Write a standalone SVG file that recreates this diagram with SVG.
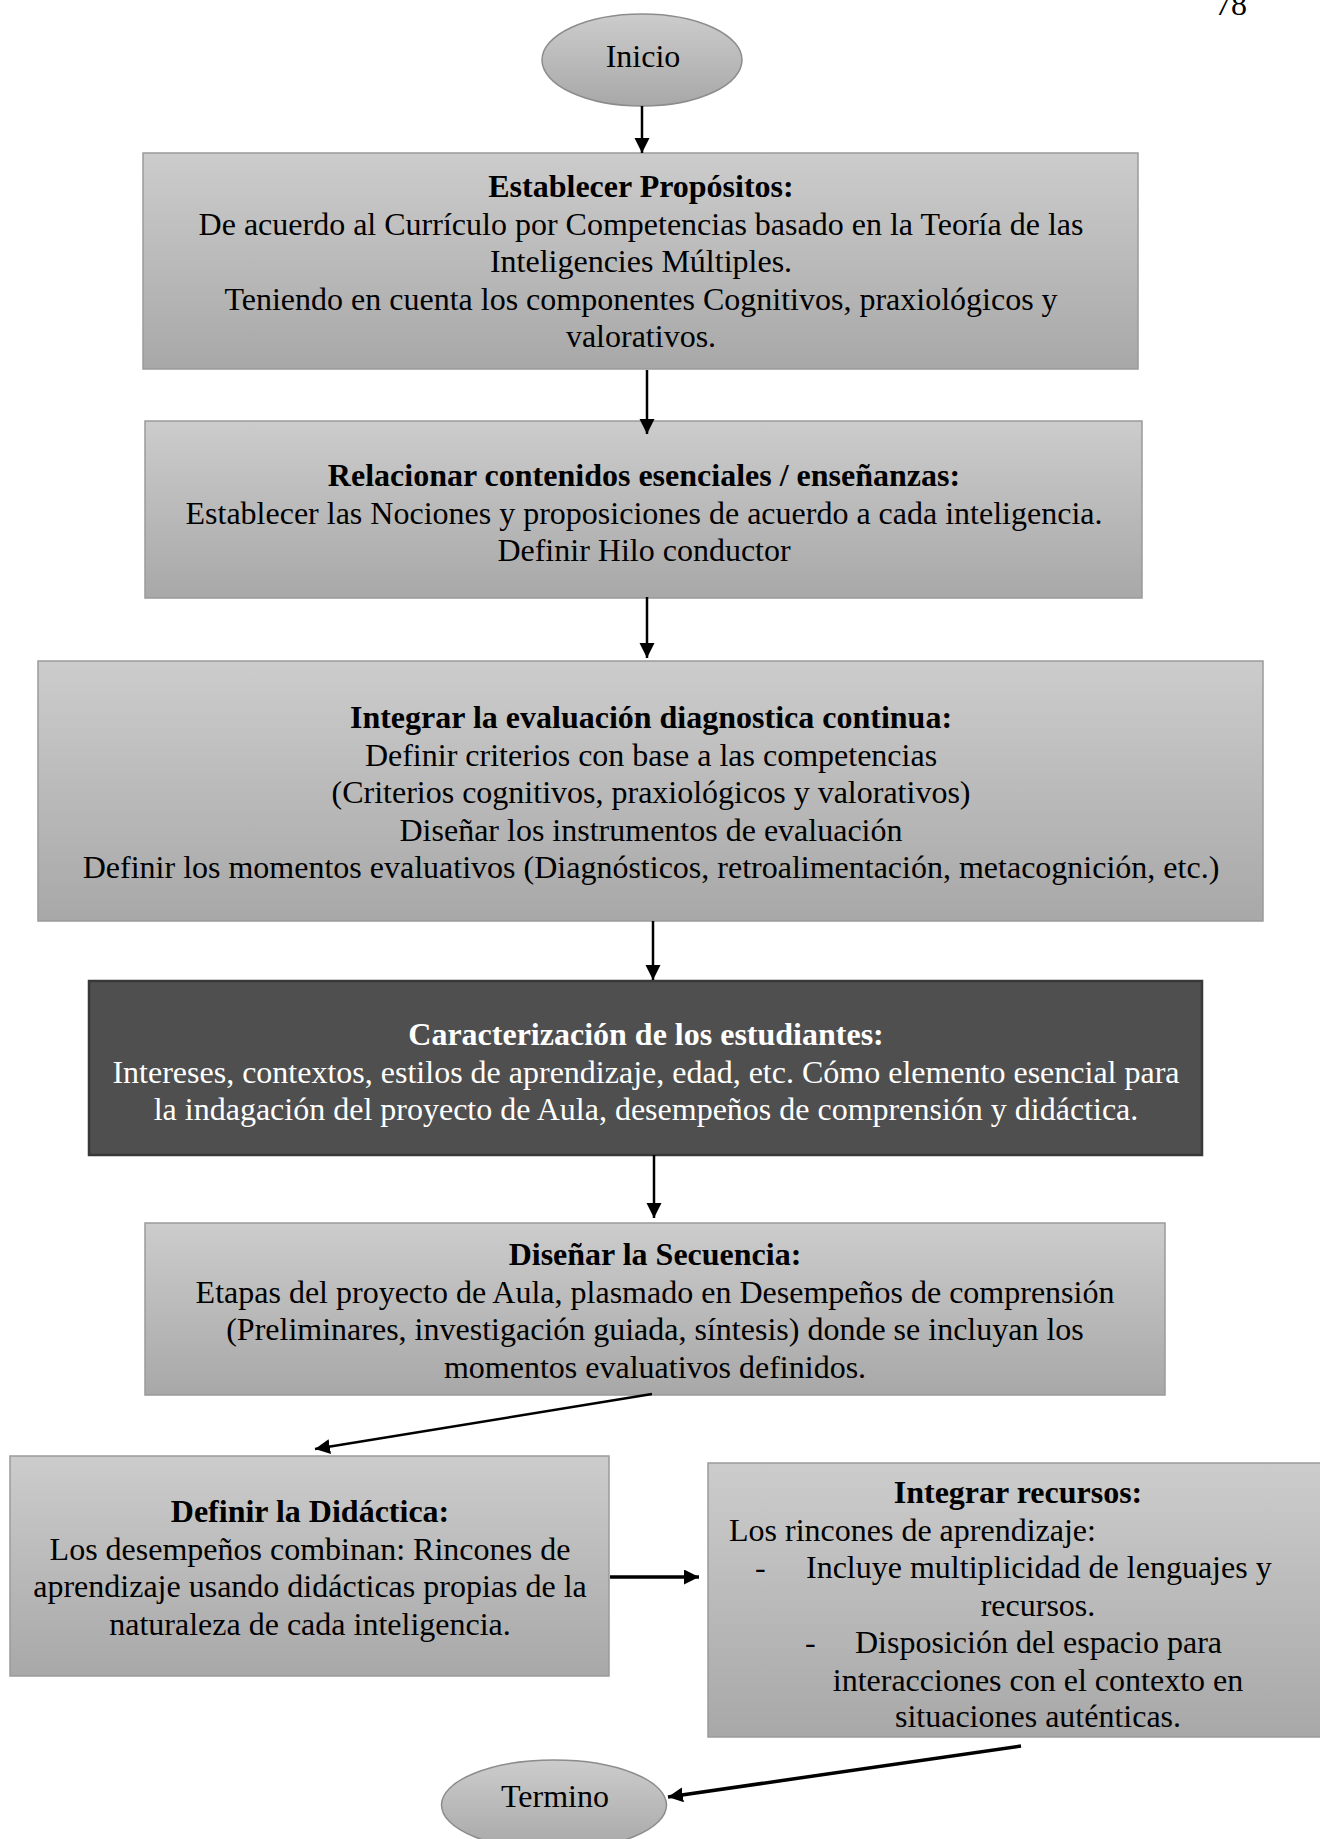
<svg xmlns="http://www.w3.org/2000/svg" width="1320" height="1839" viewBox="0 0 1320 1839">
  <style>
    text { font-family: "Liberation Serif", "Times New Roman", serif; font-size: 32px; fill: #000; }
    .c { text-anchor: middle; }
    .b { font-weight: bold; }
    .w { fill: #fff; }
    .box { fill: url(#grey); stroke: #9a9a9a; stroke-width: 1.5; }
    .dark { fill: #4f4f4f; stroke: #383838; stroke-width: 2.5; }
    .oval { fill: url(#grey); stroke: #8c8c8c; stroke-width: 1.5; }
    .link { stroke: #000; stroke-width: 2.5; fill: none; marker-end: url(#head); }
    .thick { stroke-width: 3.5; }
  </style>
  <defs>
    <linearGradient id="grey" x1="0" y1="0" x2="0" y2="1">
      <stop offset="0" stop-color="#cccccc"/>
      <stop offset="1" stop-color="#a8a8a8"/>
    </linearGradient>
    <marker id="head" markerUnits="userSpaceOnUse" markerWidth="16" markerHeight="16" refX="15" refY="7.5" orient="auto">
      <path d="M0,0 L15,7.5 L0,15 z" fill="#000"/>
    </marker>
  </defs>

  <!-- page number -->
  <text x="1231" y="15" class="c">78</text>

  <g id="inicio">
    <ellipse class="oval" cx="642" cy="60" rx="100" ry="46"/>
    <text x="643" y="67" class="c">Inicio</text>
  </g>

  <g id="establecer">
    <rect class="box" x="143" y="153" width="995" height="216"/>
    <text x="641" y="197" class="c b">Establecer Propósitos:</text>
    <text x="641" y="234.5" class="c">De acuerdo al Currículo por Competencias basado en la Teoría de las</text>
    <text x="641" y="272" class="c">Inteligencies Múltiples.</text>
    <text x="641" y="309.5" class="c">Teniendo en cuenta los componentes Cognitivos, praxiológicos y</text>
    <text x="641" y="347" class="c">valorativos.</text>
  </g>

  <g id="relacionar">
    <rect class="box" x="145" y="421" width="997" height="177"/>
    <text x="644" y="486" class="c b">Relacionar contenidos esenciales / enseñanzas:</text>
    <text x="644" y="523.5" class="c">Establecer las Nociones y proposiciones de acuerdo a cada inteligencia.</text>
    <text x="644" y="561" class="c">Definir Hilo conductor</text>
  </g>

  <g id="evaluacion">
    <rect class="box" x="38" y="661" width="1225" height="260"/>
    <text x="651" y="728" class="c b">Integrar la evaluación diagnostica continua:</text>
    <text x="651" y="765.5" class="c">Definir criterios con base a las competencias</text>
    <text x="651" y="803" class="c">(Criterios cognitivos, praxiológicos y valorativos)</text>
    <text x="651" y="840.5" class="c">Diseñar los instrumentos de evaluación</text>
    <text x="651" y="878" class="c">Definir los momentos evaluativos (Diagnósticos, retroalimentación, metacognición, etc.)</text>
  </g>

  <g id="caracterizacion">
    <rect class="dark" x="89" y="981" width="1113" height="174"/>
    <text x="646" y="1045" class="c b w">Caracterización de los estudiantes:</text>
    <text x="646" y="1082.5" class="c w">Intereses, contextos, estilos de aprendizaje, edad, etc. Cómo elemento esencial para</text>
    <text x="646" y="1120" class="c w">la indagación del proyecto de Aula, desempeños de comprensión y didáctica.</text>
  </g>

  <g id="secuencia">
    <rect class="box" x="145" y="1223" width="1020" height="172"/>
    <text x="655" y="1265" class="c b">Diseñar la Secuencia:</text>
    <text x="655" y="1302.5" class="c">Etapas del proyecto de Aula, plasmado en Desempeños de comprensión</text>
    <text x="655" y="1340" class="c">(Preliminares, investigación guiada, síntesis) donde se incluyan los</text>
    <text x="655" y="1377.5" class="c">momentos evaluativos definidos.</text>
  </g>

  <g id="didactica">
    <rect class="box" x="10" y="1456" width="599" height="220"/>
    <text x="310" y="1522" class="c b">Definir la Didáctica:</text>
    <text x="310" y="1559.5" class="c">Los desempeños combinan: Rincones de</text>
    <text x="310" y="1597" class="c">aprendizaje usando didácticas propias de la</text>
    <text x="310" y="1634.5" class="c">naturaleza de cada inteligencia.</text>
  </g>

  <g id="recursos">
    <rect class="box" x="708" y="1463" width="620" height="274"/>
    <text x="1018" y="1503" class="c b">Integrar recursos:</text>
    <text x="729" y="1540.5">Los rincones de aprendizaje:</text>
    <text x="755" y="1578">-</text>
    <text x="806" y="1578">Incluye multiplicidad de lenguajes y</text>
    <text x="1038" y="1615.5" class="c">recursos.</text>
    <text x="805" y="1653">-</text>
    <text x="855" y="1653">Disposición del espacio para</text>
    <text x="1038" y="1690.5" class="c">interacciones con el contexto en</text>
    <text x="1038" y="1727" class="c">situaciones auténticas.</text>
  </g>

  <g id="termino">
    <ellipse class="oval" cx="554" cy="1805" rx="112.5" ry="45"/>
    <text x="555" y="1807" class="c">Termino</text>
  </g>

  <g id="connectors">
    <line class="link" x1="642" y1="106" x2="642" y2="153"/>
    <line class="link" x1="647" y1="370" x2="647" y2="434"/>
    <line class="link" x1="647" y1="597" x2="647" y2="658"/>
    <line class="link" x1="653" y1="921" x2="653" y2="980"/>
    <line class="link" x1="654" y1="1155" x2="654" y2="1218"/>
    <line class="link" x1="652" y1="1394" x2="315" y2="1449"/>
    <line class="link thick" x1="610" y1="1577" x2="699" y2="1577"/>
    <line class="link thick" x1="1021" y1="1746" x2="668" y2="1797"/>
  </g>
</svg>
